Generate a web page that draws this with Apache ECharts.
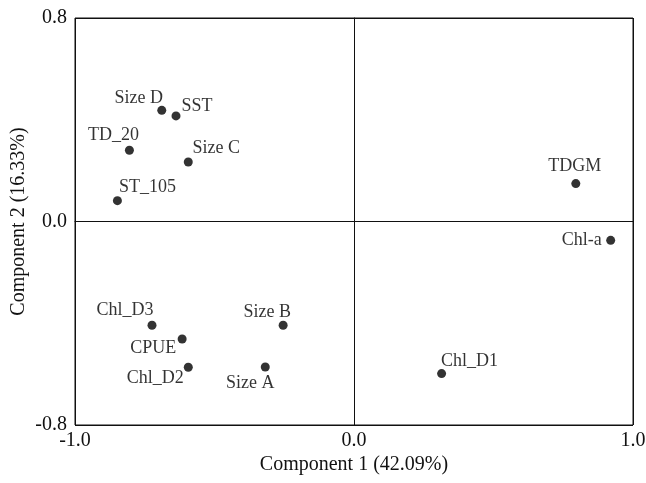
<!DOCTYPE html>
<html>
<head>
<meta charset="utf-8">
<script src="https://cdn.jsdelivr.net/npm/echarts@6/dist/echarts.min.js"></script>
<style>html,body{margin:0;padding:0;background:#fff;}#c{width:646px;height:483px;}</style>
</head>
<body>
<div id="c"></div>
<script>
// Data
const names = ['Size D','SST','TD_20','Size C','ST_105','TDGM','Chl-a','Chl_D1','Chl_D3','CPUE','Chl_D2','Size B','Size A'];
const comp1 = [-0.689,-0.638,-0.805,-0.594,-0.848,0.795,0.920,0.314,-0.724,-0.616,-0.594,-0.254,-0.318];
const comp2 = [0.437,0.415,0.280,0.234,0.082,0.149,-0.074,-0.598,-0.408,-0.462,-0.573,-0.408,-0.572];
const xTicks = [-1.0, 0.0, 1.0];
const yTicks = [-0.8, 0.0, 0.8];

// label placement (style): text centre offset from point centre, px
const labelOffsets = {
  'Size D':[-23,-12],'SST':[21,-10],'TD_20':[-16,-15],'Size C':[28,-14],'ST_105':[30,-13],
  'TDGM':[-1,-17],'Chl-a':[-29,0],'Chl_D1':[28,-12],'Chl_D3':[-27,-15],'CPUE':[-29,9],
  'Chl_D2':[-33,11],'Size B':[-16,-13],'Size A':[-15,16]
};

const font = 'Liberation Serif';
const SYM = 9;
const chart = echarts.init(document.getElementById('c'), null, {renderer:'canvas'});
const data = names.map((n,i)=>({
  name:n, value:[comp1[i], comp2[i]],
  label:{position:[SYM/2+labelOffsets[n][0], SYM/2+labelOffsets[n][1]], align:'center', verticalAlign:'middle'}
}));
chart.setOption({
  animation:false,
  backgroundColor:'#fff',
  grid:{left:75,right:13,top:18,bottom:58,show:true,borderColor:'#111',borderWidth:1,containLabel:false,outerBoundsMode:'none'},
  xAxis:{
    type:'value',min:xTicks[0],max:xTicks[xTicks.length-1],interval:1,
    name:'Component 1 (42.09%)',nameLocation:'middle',nameGap:30,nameMoveOverlap:false,
    nameTextStyle:{fontFamily:font,fontSize:20,color:'#111'},
    axisLine:{show:true,lineStyle:{color:'#111',width:1}},
    axisTick:{show:false},
    axisLabel:{fontFamily:font,fontSize:20,color:'#111',margin:6,formatter:v=>v.toFixed(1)},
    splitLine:{show:true,lineStyle:{color:'#111',width:1}}
  },
  yAxis:{
    type:'value',min:yTicks[0],max:yTicks[yTicks.length-1],interval:0.8,
    name:'Component 2 (16.33%)',nameLocation:'middle',nameGap:46,nameMoveOverlap:false,
    nameTextStyle:{fontFamily:font,fontSize:20,color:'#111'},
    axisLine:{show:true,lineStyle:{color:'#111',width:1}},
    axisTick:{show:false},
    axisLabel:{fontFamily:font,fontSize:20,color:'#111',margin:8,formatter:v=>v.toFixed(1)},
    splitLine:{show:true,lineStyle:{color:'#111',width:1}}
  },
  series:[{
    type:'scatter',symbol:'circle',symbolSize:SYM,
    itemStyle:{color:'#000'},
    label:{show:true,formatter:'{b}',fontFamily:font,fontSize:18,color:'#000'},
    labelLayout:{hideOverlap:false},
    data:data
  }]
});
</script>
</body>
</html>
